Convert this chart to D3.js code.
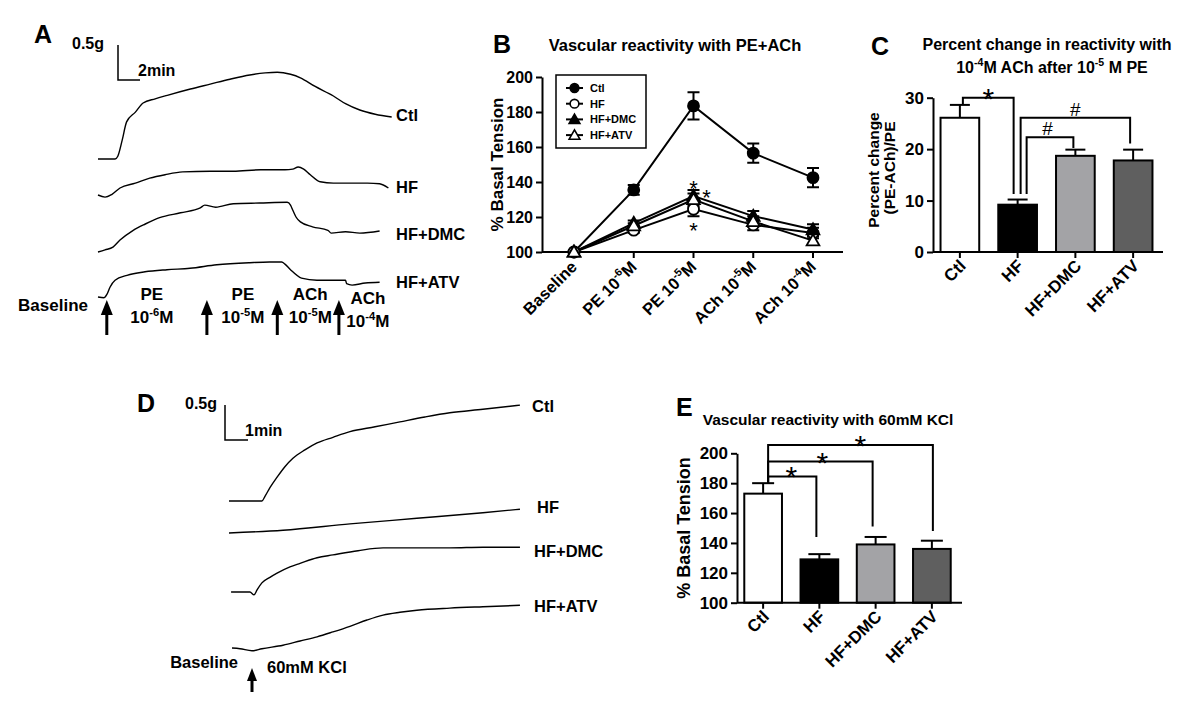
<!DOCTYPE html>
<html>
<head>
<meta charset="utf-8">
<script src="https://cdn.jsdelivr.net/npm/d3@7/dist/d3.min.js"></script>
<style>
html,body{margin:0;padding:0;background:#fff;}
svg{display:block;font-family:"Liberation Sans",Arial,Helvetica,sans-serif;font-weight:bold;}
</style>
</head>
<body>
<svg id="fig" width="1200" height="708" viewBox="0 0 1200 708"></svg>
<script>
// ================= DATA =================
const groups = ["Ctl", "HF", "HF+DMC", "HF+ATV"];

// Panel A – tension recordings: [time (min), tension above trace start (g)]
const traceA_Ctl = [[0,0],[1.55,0],[1.8,0.04],[2.2,0.27],[2.6,0.53],[3.4,0.67],[4.1,0.8],[5.2,0.86],[6.3,0.91],[8.4,1.0],[10.2,1.07],[12.0,1.14],[13.8,1.2],[15.2,1.23],[16.3,1.24],[17.5,1.21],[18.4,1.16],[19.7,1.04],[21.4,0.9],[22.5,0.79],[23.8,0.7],[25.2,0.64],[26.7,0.6]];
const traceA_HF = [[0,0],[0.64,-0.03],[1.27,0.01],[2.0,0.1],[3.4,0.17],[4.7,0.24],[6.1,0.29],[7.7,0.33],[10.2,0.34],[12.3,0.34],[14.8,0.36],[17.0,0.36],[17.7,0.37],[18.2,0.4],[18.7,0.37],[19.3,0.29],[20.2,0.19],[21.4,0.17],[22.9,0.17],[24.5,0.17],[25.6,0.16],[26.4,0.1]];
const traceA_DMC = [[0,0],[0.64,0.03],[1.36,0.07],[2.0,0.17],[3.2,0.31],[4.3,0.4],[5.6,0.49],[7.5,0.56],[9.3,0.63],[9.7,0.67],[10.7,0.64],[12.3,0.69],[14.7,0.7],[17.2,0.71],[17.5,0.67],[17.7,0.6],[18.0,0.5],[18.4,0.43],[19.5,0.36],[20.9,0.31],[21.2,0.27],[22.5,0.29],[23.8,0.27],[25.6,0.3]];
const traceA_ATV = [[0,0],[0.55,-0.01],[0.82,0.04],[1.09,0.14],[1.55,0.24],[2.64,0.31],[4.27,0.36],[6.27,0.39],[8.36,0.41],[10.8,0.46],[13.8,0.49],[15.6,0.5],[16.7,0.5],[17.0,0.47],[17.5,0.39],[18.5,0.27],[19.9,0.24],[21.5,0.24],[22.5,0.24],[22.6,0.19],[23.1,0.17],[24.3,0.2],[25.6,0.21]];
const arrowTimesA = [0.8, 9.9, 16.3, 21.9];
const arrowLabelsA = [["PE", "10^-6M"], ["PE", "10^-5M"], ["ACh", "10^-5M"], ["ACh", "10^-4M"]];
const scaleBarA = {grams: 0.5, minutes: 2};

// Panel B – % basal tension, mean and SEM
const catsB = ["Baseline", "PE 10^-6M", "PE 10^-5M", "ACh 10^-5M", "ACh 10^-4M"];
const ctlB = [100, 135.5, 183.5, 156.5, 142.5];
const ctlBErr = [0, 2.8, 7.8, 5.5, 5.5];
const hfB = [100, 112.5, 124.5, 115.5, 110.8];
const hfBErr = [0, 1.5, 4.0, 3.0, 3.0];
const dmcB = [100, 116.5, 132, 120.5, 112.8];
const dmcBErr = [0, 1.5, 3.5, 3.0, 3.0];
const atvB = [100, 115, 130, 117.5, 106.5];
const atvBErr = [0, 1.5, 3.5, 3.0, 2.5];
const ticksB = [100, 120, 140, 160, 180, 200];
const starsB = [{cat: "PE 10^-5M", value: 139.5, side: 0}, {cat: "PE 10^-5M", value: 134.5, side: 1}, {cat: "PE 10^-5M", value: 115.5, side: 0}];

// Panel C – percent change (PE-ACh)/PE
const valuesC = [26.1, 9.2, 18.7, 17.8];
const errC = [2.5, 1.0, 1.2, 2.1];
const ticksC = [0, 10, 20, 30];
const bracketsC = [
  {from: "Ctl", to: "HF", top: 30, fromEnd: 28.6, toEnd: 11.3, label: "*"},
  {from: "HF", to: "HF+ATV", top: 26.1, fromEnd: 11.3, toEnd: 21.1, label: "#"},
  {from: "HF", to: "HF+DMC", top: 22.3, fromEnd: 11.3, toEnd: 20.2, label: "#"}
];

// Panel D – KCl recordings: [time (min), tension above trace start (g)]
const traceD_Ctl = [[0,0],[1.43,0],[1.57,0.07],[1.78,0.19],[2.09,0.34],[2.43,0.49],[2.78,0.61],[3.3,0.73],[3.83,0.83],[4.52,0.91],[5.26,0.99],[6.35,1.06],[7.43,1.13],[8.52,1.2],[9.6,1.26],[11.04,1.31],[12.65,1.37]];
const traceD_HF = [[0,0],[2.35,0.04],[5.26,0.13],[8.17,0.21],[11.04,0.29],[12.65,0.34]];
const traceD_DMC = [[0.09,0],[0.91,0],[1.09,-0.04],[1.22,0.03],[1.43,0.13],[1.78,0.21],[2.09,0.27],[2.65,0.36],[3.09,0.41],[3.83,0.49],[4.52,0.53],[5.61,0.59],[6.7,0.63],[8.17,0.63],[9.6,0.63],[11.04,0.64],[12.65,0.64]];
const traceD_ATV = [[0.13,0],[0.48,-0.01],[1.0,-0.04],[1.43,-0.01],[2.35,0.04],[3.09,0.1],[3.83,0.16],[4.52,0.23],[5.26,0.31],[6.0,0.4],[6.7,0.47],[7.43,0.51],[8.17,0.54],[9.6,0.57],[11.04,0.59],[12.65,0.61]];
const arrowTimeD = 1.0;
const scaleBarD = {grams: 0.5, minutes: 1};

// Panel E – % basal tension with 60 mM KCl
const valuesE = [173, 129, 139, 136];
const errE = [7.0, 3.5, 5.0, 5.5];
const ticksE = [100, 120, 140, 160, 180, 200];
const bracketsE = [
  {from: "Ctl", to: "HF", top: 184.5, fromEnd: 180, toEnd: 144, label: "*"},
  {from: "Ctl", to: "HF+DMC", top: 194.5, fromEnd: 180, toEnd: 151, label: "*"},
  {from: "Ctl", to: "HF+ATV", top: 205.5, fromEnd: 180, toEnd: 148, label: "*"}
];
const barFills = ["#ffffff", "#000000", "#a3a3a6", "#5f5f5f"];

// ================= HELPERS =================
const svg = d3.select("#fig");

function rich(sel, str, fs) {
  const parts = str.split(/\^(-?\d+)/);
  let raised = false;
  parts.forEach((p, i) => {
    if (!p) return;
    const t = sel.append("tspan").text(p);
    if (i % 2 === 1) { t.attr("font-size", fs * 0.66).attr("dy", -fs * 0.42); raised = true; }
    else if (raised) { t.attr("dy", fs * 0.42); raised = false; }
  });
}
function styleAxis(g, fs) {
  g.select(".domain").attr("stroke", "#000").attr("stroke-width", 2);
  g.selectAll(".tick line").attr("stroke", "#000").attr("stroke-width", 2);
  g.selectAll(".tick text").attr("fill", "#000").attr("font-size", fs)
    .attr("font-family", "Liberation Sans, Arial, sans-serif").attr("font-weight", "bold");
}
function glyph(g, ch, x, cy, fs, weight) {
  const off = ch === "*" ? 0.6 : 0.36;
  g.append("text").attr("x", x).attr("y", cy + off * fs).attr("text-anchor", "middle")
    .attr("font-size", fs).attr("font-weight", weight || "normal").text(ch);
}
function arrow(g, x, yTip, yEnd, hw, hh) {
  g.append("line").attr("x1", x).attr("x2", x).attr("y1", yTip + hh - 1).attr("y2", yEnd)
    .attr("stroke", "#000").attr("stroke-width", 3);
  g.append("path").attr("d", `M${x},${yTip}L${x - hw / 2},${yTip + hh}L${x + hw / 2},${yTip + hh}Z`).attr("fill", "#000");
}
function label(g, txt, x, y, fs, anchor) {
  const t = g.append("text").attr("x", x).attr("y", y).attr("font-size", fs)
    .attr("text-anchor", anchor || "start");
  rich(t, txt, fs);
  return t;
}
function drawTraces(g, traces, rows, x, yd) {
  traces.forEach((tr, i) => {
    g.append("path").datum(tr).attr("fill", "none").attr("stroke", "#000").attr("stroke-width", 1.4)
      .attr("stroke-linejoin", "round")
      .attr("d", d3.line().x(d => x(d[0])).y(d => rows[i] + yd(d[1])).curve(d3.curveMonotoneX));
  });
}

// ================= PANEL A =================
{
  const g = svg.append("g");
  const x = d3.scaleLinear().domain([0, 27]).range([98, 395]);
  const yd = d3.scaleLinear().domain([0, 0.5]).range([0, -35]);
  const rows = [159, 195, 252, 297];
  drawTraces(g, [traceA_Ctl, traceA_HF, traceA_DMC, traceA_ATV], rows, x, yd);
  const labY = [121, 193, 240, 288];
  groups.forEach((n, i) => label(g, n, 396, labY[i], 16.5));
  g.append("text").attr("x", 34).attr("y", 43).attr("font-size", 25).text("A");
  const sx = 118, sy = 80;
  g.append("path").attr("d", `M${sx},${sy + yd(scaleBarA.grams)}V${sy}H${sx + x(scaleBarA.minutes) - x(0)}`)
    .attr("fill", "none").attr("stroke", "#000").attr("stroke-width", 1.5);
  label(g, "0.5g", 104, 49, 16, "end");
  label(g, "2min", 138, 76, 16);
  const labDx = [45, 36, 33, 29];
  arrowTimesA.forEach((t, i) => {
    const ax = x(t);
    arrow(g, ax, 300, 335, 12, 15);
    const lx = ax + labDx[i];
    const dy = i === 3 ? 4 : 0;
    label(g, arrowLabelsA[i][0], lx, 300 + dy, 17, "middle");
    label(g, arrowLabelsA[i][1], lx, 323 + dy, 17, "middle");
  });
  label(g, "Baseline", 88, 311, 17, "end");
}

// ================= PANEL B =================
{
  const g = svg.append("g");
  const x = d3.scalePoint().domain(catsB).range([574, 813]);
  const y = d3.scaleLinear().domain([100, 200]).range([252, 77]);
  const axX = 542, axEnd = 843;
  g.append("g").attr("transform", `translate(${axX},0)`)
    .call(d3.axisLeft(y).tickValues(ticksB).tickSize(6).tickSizeOuter(0).tickPadding(3))
    .call(a => styleAxis(a, 16));
  g.append("line").attr("x1", axX).attr("x2", axEnd).attr("y1", y(100)).attr("y2", y(100))
    .attr("stroke", "#000").attr("stroke-width", 2);
  catsB.forEach(c => {
    g.append("line").attr("x1", x(c)).attr("x2", x(c)).attr("y1", y(100)).attr("y2", y(100) + 6)
      .attr("stroke", "#000").attr("stroke-width", 2);
    const t = g.append("text").attr("transform", `translate(${x(c) + 4},${y(100) + 16}) rotate(-45)`)
      .attr("text-anchor", "end").attr("font-size", 16.5);
    rich(t, c, 16.5);
  });
  g.append("text").attr("transform", `translate(503,${(y(100) + y(200)) / 2}) rotate(-90)`)
    .attr("text-anchor", "middle").attr("font-size", 17).text("% Basal Tension");
  g.append("text").attr("x", 493).attr("y", 53).attr("font-size", 25).text("B");
  g.append("text").attr("x", 675).attr("y", 51).attr("text-anchor", "middle").attr("font-size", 16.5)
    .text("Vascular reactivity with PE+ACh");

  const series = [
    {name: "Ctl", v: ctlB, e: ctlBErr, shape: "circle", fill: "#000"},
    {name: "HF", v: hfB, e: hfBErr, shape: "circle", fill: "#fff"},
    {name: "HF+DMC", v: dmcB, e: dmcBErr, shape: "tri", fill: "#000"},
    {name: "HF+ATV", v: atvB, e: atvBErr, shape: "tri", fill: "#fff"}
  ];
  const line = d3.line().x((d, i) => x(catsB[i])).y(d => y(d));
  series.forEach(s => g.append("path").datum(s.v).attr("d", line).attr("fill", "none")
    .attr("stroke", "#000").attr("stroke-width", 2));
  series.forEach(s => s.v.forEach((v, i) => {
    if (!s.e[i]) return;
    const cx = x(catsB[i]);
    g.append("path").attr("d", `M${cx - 6},${y(v + s.e[i])}H${cx + 6}M${cx},${y(v + s.e[i])}V${y(v - s.e[i])}M${cx - 6},${y(v - s.e[i])}H${cx + 6}`)
      .attr("stroke", "#000").attr("stroke-width", 2).attr("fill", "none");
  }));
  const sym = (shape, size) => d3.symbol().type(shape === "circle" ? d3.symbolCircle : d3.symbolTriangle).size(size);
  series.forEach(s => s.v.forEach((v, i) => {
    g.append("path").attr("transform", `translate(${x(catsB[i])},${y(v) + (s.shape === "tri" ? 1 : 0)})`)
      .attr("d", sym(s.shape, s.shape === "circle" ? 95 : 70)())
      .attr("fill", s.fill).attr("stroke", "#000").attr("stroke-width", 1.8);
  }));
  starsB.forEach(st => glyph(g, "*", x(st.cat) + st.side * 13, y(st.value), 22));

  const lg = g.append("g");
  lg.append("rect").attr("x", 556).attr("y", 75).attr("width", 90).attr("height", 73)
    .attr("fill", "#fff").attr("stroke", "#000").attr("stroke-width", 1.5);
  series.forEach((s, i) => {
    const ly = 88 + i * 15.7;
    lg.append("line").attr("x1", 566).attr("x2", 583).attr("y1", ly).attr("y2", ly)
      .attr("stroke", "#000").attr("stroke-width", 2);
    lg.append("path").attr("transform", `translate(574.5,${ly + (s.shape === "tri" ? 1 : 0)})`)
      .attr("d", sym(s.shape, s.shape === "circle" ? 60 : 50)())
      .attr("fill", s.fill).attr("stroke", "#000").attr("stroke-width", 1.6);
    lg.append("text").attr("x", 590).attr("y", ly + 4).attr("font-size", 11).text(s.name);
  });
}

// ================= bar chart helper =================
function barPanel(opt) {
  const g = svg.append("g");
  const x = d3.scaleBand().domain(groups).range(opt.xr).paddingInner(0.33).paddingOuter(0.165);
  const y = d3.scaleLinear().domain(opt.domain).range(opt.yr);
  const y0 = y(opt.domain[0]);
  g.append("g").attr("transform", `translate(${opt.axX},0)`)
    .call(d3.axisLeft(y).tickValues(opt.ticks).tickSize(6).tickSizeOuter(0).tickPadding(3))
    .call(a => styleAxis(a, opt.tickFs));
  opt.values.forEach((v, i) => {
    const c = groups[i];
    const cx = x(c) + x.bandwidth() / 2;
    g.append("line").attr("x1", cx).attr("x2", cx).attr("y1", y(v)).attr("y2", y(v + opt.err[i]))
      .attr("stroke", "#000").attr("stroke-width", 2);
    g.append("line").attr("x1", cx - opt.cap / 2).attr("x2", cx + opt.cap / 2)
      .attr("y1", y(v + opt.err[i])).attr("y2", y(v + opt.err[i])).attr("stroke", "#000").attr("stroke-width", 2);
    g.append("rect").attr("x", x(c)).attr("y", y(v)).attr("width", x.bandwidth()).attr("height", y0 - y(v))
      .attr("fill", barFills[i]).attr("stroke", "#000").attr("stroke-width", 2);
    g.append("line").attr("x1", cx).attr("x2", cx).attr("y1", y0).attr("y2", y0 + 6)
      .attr("stroke", "#000").attr("stroke-width", 2);
    g.append("text").attr("transform", `translate(${cx + opt.labDx},${y0 + opt.labDy}) rotate(-45)`)
      .attr("text-anchor", "end").attr("font-size", opt.tickFs).text(c);
  });
  g.append("line").attr("x1", opt.axX).attr("x2", opt.axEnd).attr("y1", y0).attr("y2", y0)
    .attr("stroke", "#000").attr("stroke-width", 2);
  opt.brackets.forEach((b, i) => {
    const x1 = x(b.from) + x.bandwidth() / 2 + opt.bdx[i][0];
    const x2 = x(b.to) + x.bandwidth() / 2 + opt.bdx[i][1];
    g.append("path").attr("d", `M${x1},${y(b.fromEnd)}V${y(b.top)}H${x2}V${y(b.toEnd)}`)
      .attr("fill", "none").attr("stroke", "#000").attr("stroke-width", 2);
    const lx = x1 + (x2 - x1) * opt.labFrac[i];
    glyph(g, b.label, lx, y(b.top) - (b.label === "*" ? 7 : 9), b.label === "*" ? opt.starFs : opt.hashFs);
  });
  return {g, x, y};
}

// ================= PANEL C =================
{
  const p = barPanel({
    xr: [931, 1162], domain: [0, 30], yr: [252, 97.7], axX: 933, axEnd: 1163, ticks: ticksC, tickFs: 17,
    values: valuesC, err: errC, cap: 20, labDx: 7, labDy: 15, brackets: bracketsC,
    bdx: [[3, -4], [3, -3], [9, -2]], labFrac: [0.5, 0.5, 0.45], starFs: 30, hashFs: 19
  });
  const g = p.g;
  g.append("text").attr("x", 871).attr("y", 55).attr("font-size", 25).text("C");
  g.append("text").attr("x", 1047).attr("y", 50).attr("text-anchor", "middle").attr("font-size", 16).text("Percent change in reactivity with");
  label(g, "10^-4M ACh after 10^-5 M PE", 1052, 73, 16, "middle");
  g.append("text").attr("transform", `translate(879,170) rotate(-90)`).attr("text-anchor", "middle")
    .attr("font-size", 15.5).text("Percent change");
  g.append("text").attr("transform", `translate(895,168) rotate(-90)`).attr("text-anchor", "middle")
    .attr("font-size", 15.5).text("(PE-ACh)/PE");
}

// ================= PANEL D =================
{
  const g = svg.append("g");
  const x = d3.scaleLinear().domain([0, 13]).range([229, 528]);
  const yd = d3.scaleLinear().domain([0, 0.5]).range([0, -35]);
  const rows = [501, 533, 592, 648];
  drawTraces(g, [traceD_Ctl, traceD_HF, traceD_DMC, traceD_ATV], rows, x, yd);
  const labX = [532, 537, 534, 534], labY = [412, 513, 557, 612];
  groups.forEach((n, i) => label(g, n, labX[i], labY[i], 16.5));
  g.append("text").attr("x", 137).attr("y", 412).attr("font-size", 25).text("D");
  const sx = 225, sy = 440;
  g.append("path").attr("d", `M${sx},${sy + yd(scaleBarD.grams)}V${sy}H${sx + x(scaleBarD.minutes) - x(0)}`)
    .attr("fill", "none").attr("stroke", "#000").attr("stroke-width", 1.5);
  label(g, "0.5g", 217, 409, 16, "end");
  label(g, "1min", 245, 436, 16);
  arrow(g, x(arrowTimeD), 668, 692, 10, 13);
  label(g, "Baseline", 238, 668, 16.5, "end");
  label(g, "60mM KCl", 267, 673, 16.5);
}

// ================= PANEL E =================
{
  const p = barPanel({
    xr: [735, 960], domain: [100, 200], yr: [602.7, 453.3], axX: 737, axEnd: 962, ticks: ticksE, tickFs: 17,
    values: valuesE, err: errE, cap: 22, labDx: 7, labDy: 15, brackets: bracketsE,
    bdx: [[5, -3], [5, -3], [5, 1]], labFrac: [0.48, 0.52, 0.56], starFs: 30, hashFs: 19
  });
  const g = p.g;
  g.append("text").attr("x", 676).attr("y", 416).attr("font-size", 25).text("E");
  g.append("text").attr("x", 828).attr("y", 425).attr("text-anchor", "middle").attr("font-size", 15.5)
    .text("Vascular reactivity with 60mM KCl");
  g.append("text").attr("transform", `translate(690,${(p.y(100) + p.y(200)) / 2}) rotate(-90)`)
    .attr("text-anchor", "middle").attr("font-size", 18).text("% Basal Tension");
}
</script>
</body>
</html>
